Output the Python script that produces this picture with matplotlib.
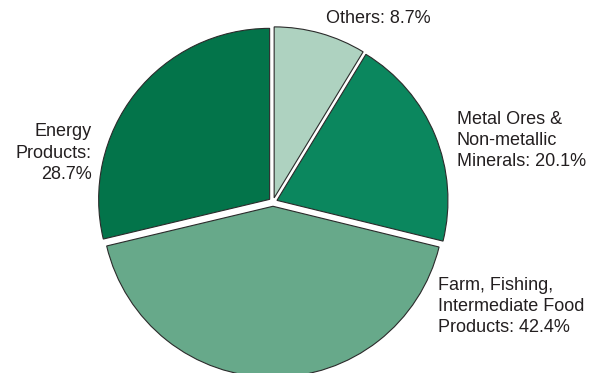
import matplotlib.pyplot as plt

# Data
labels = ["Others: 8.7%", "Metal Ores &\nNon-metallic\nMinerals: 20.1%",
          "Farm, Fishing,\nIntermediate Food\nProducts: 42.4%", "Energy\nProducts:\n28.7%"]
shares = [8.7, 20.1, 42.4, 28.7]
colors = ["#aed2c0", "#0b875e", "#67a98a", "#03744a"]

plt.rcParams['font.family'] = ['Liberation Sans', 'DejaVu Sans']

fig = plt.figure(figsize=(5.92, 3.73), dpi=100)
W, H = 592, 373
cx, cy, r = 273, 202, 171
ax = fig.add_axes([(cx - r) / W, (H - cy - r) / H, 2 * r / W, 2 * r / H])

wedges, _ = ax.pie(shares, colors=colors, startangle=90, counterclock=False,
                   explode=[0.025] * 4, radius=1,
                   wedgeprops=dict(edgecolor="#2b2b2b", linewidth=0.8))
for w in wedges:
    w.set_clip_on(False)
ax.set_xlim(-1, 1)
ax.set_ylim(-1, 1)
ax.axis("off")

# label placement (data units)
pos = [(0.614, 1.075, "center"), (1.076, 0.36, "left"),
       (0.965, -0.61, "left"), (-1.06, 0.285, "right")]
for lab, (x, y, ha) in zip(labels, pos):
    ax.text(x, y, lab, ha=ha, va="center", fontsize=13, color="#231f20",
            linespacing=1.33, multialignment=ha, clip_on=False)

fig.savefig("out.png", dpi=100)
